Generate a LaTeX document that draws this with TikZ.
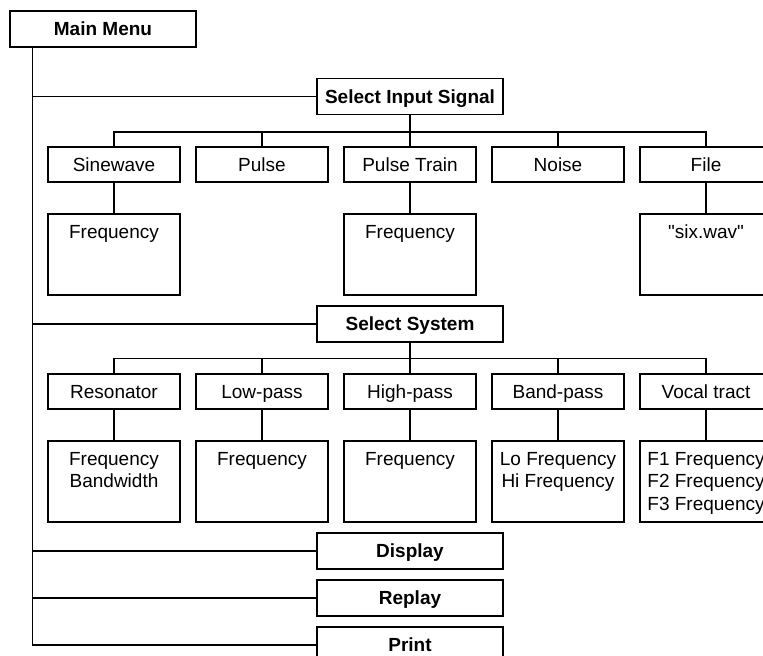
\documentclass[tikz,border=0pt]{standalone}
\usepackage{fontspec}
\setmainfont{Liberation Sans}[Ligatures=TeXOff]
\usetikzlibrary{positioning}

\newcommand{\menufont}{\fontsize{9.5}{11.3}\selectfont}

\begin{document}
\begin{tikzpicture}[x=0.5pt, y=-0.5pt, line width=0.7pt,
		every node/.style={font=\menufont},
		menu/.style={draw, minimum width=93pt, minimum height=18pt, inner sep=0pt, text height=6.8pt, text depth=0pt, font=\menufont\bfseries},
		item/.style={draw, minimum width=66pt, minimum height=17.5pt, inner sep=0pt, text height=6.8pt, text depth=0pt},
		param/.style={draw, minimum width=66pt, minimum height=40.5pt, inner sep=0pt},
		ptext/.style={anchor=north, align=center, inner sep=0pt}]
		\useasboundingbox (0,0) rectangle (763,656);

		% menu column
		\node[menu] (main) at (103,29) {Main Menu};
		\node[menu] (signal) at (410,96.5) {Select Input Signal};
		\node[menu] (system) at (410,324) {Select System};
		\node[menu] (display) at (410,551) {Display};
		\node[menu] (replay) at (410,598) {Replay};
		\node[menu] (print) at (410,645) {Print};

		\coordinate (trunk) at ([xshift=11.5pt]main.south west);
		\draw (trunk) |- (print.west);
		\foreach \n in {signal, system, display, replay}
			\draw (trunk |- \n.west) -- (\n.west);

		% input signals
		\foreach \n/\t [count=\i from 0] in {sine/Sinewave, pulse/Pulse, train/Pulse Train, noise/Noise, file/File}
			\node[item] (\n) at (114+148*\i,164.5) {\t};
		\coordinate (bus1) at ([yshift=-8.5pt]signal.south);
		\draw (signal.south) -- (bus1);
		\draw (sine.north) |- (bus1) -| (file.north);
		\foreach \n in {pulse, train, noise}
			\draw (\n.north) -- (\n.north |- bus1);

		\foreach \n/\t in {sine/Frequency, train/Frequency, file/{"six.wav"}} {
			\node[param] (\n par) at (\n.south |- 0,254.5) {};
			\node[ptext] (\n txt) at ([yshift=-5.5pt]\n par.north) {\t};
			\draw (\n.south) -- (\n par.north);
		}

		% systems
		\foreach \n/\t [count=\i from 0] in {reson/Resonator, lowp/Low-pass, highp/High-pass, bandp/Band-pass, vocal/Vocal tract}
			\node[item] (\n) at (114+148*\i,391.5) {\t};
		\coordinate (bus2) at ([yshift=-8pt]system.south);
		\draw (system.south) -- (bus2);
		\draw (reson.north) |- (bus2) -| (vocal.north);
		\foreach \n in {lowp, highp, bandp}
			\draw (\n.north) -- (\n.north |- bus2);

		\foreach \n/\t in {reson/{Frequency\\Bandwidth}, lowp/Frequency, highp/Frequency,
				bandp/{Lo Frequency\\Hi Frequency}, vocal/{F1 Frequency\\F2 Frequency\\F3 Frequency}} {
			\node[param] (\n par) at (\n.south |- 0,481.5) {};
			\node[ptext] (\n txt) at ([yshift=-5.5pt]\n par.north) {\t};
			\draw (\n.south) -- (\n par.north);
		}
	\end{tikzpicture}
\end{document}
